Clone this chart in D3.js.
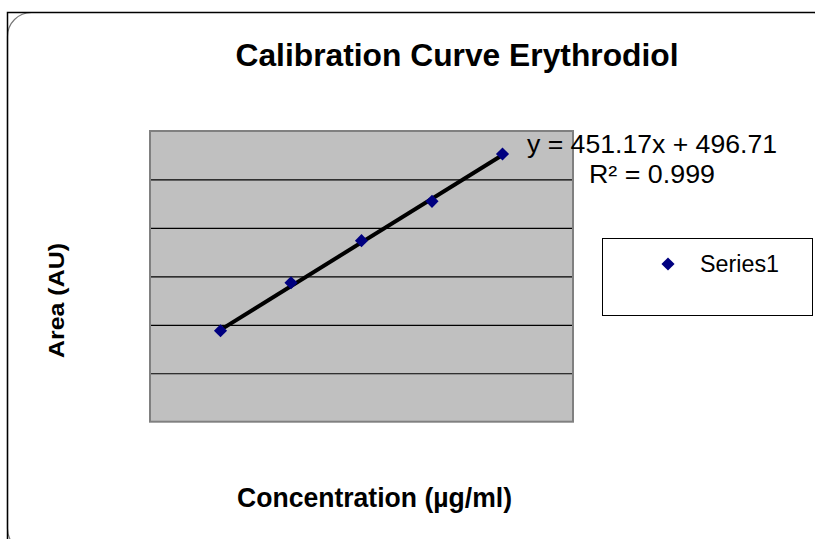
<!DOCTYPE html>
<html>
<head>
<meta charset="utf-8">
<script src="https://cdn.jsdelivr.net/npm/d3@7"></script>
<style>
  body { margin: 0; background: #fff; }
  svg { display: block; font-family: "Liberation Sans", Arial, sans-serif; }
</style>
</head>
<body>
<div class="js-canvas"></div>
<script>
'use strict';

// data (x = concentration, y = area)
const concentrations = [1, 2, 3, 4, 5];
const areas = [939, 1434, 1868, 2274, 2763];
const seriesName = 'Series1';
const gridValues = [500, 1000, 1500, 2000, 2500];
const trendSlope = 451.17;
const trendIntercept = 496.71;
const rSquared = 0.999;

const config = {
    width: 815,
    height: 539,
    plot: { left: 150, top: 131, right: 573, bottom: 421.7 }
};

const svg = d3.select('.js-canvas')
    .append('svg')
    .attr('width', config.width)
    .attr('height', config.height);

// outer frame + rounded chart border
svg.append('rect')
    .attr('x', 7.5).attr('y', 12.5)
    .attr('width', 830).attr('height', 540)
    .attr('rx', 24).attr('ry', 24)
    .attr('fill', '#fff')
    .attr('stroke', '#777')
    .attr('stroke-width', 1.2);

svg.append('path')
    .attr('d', `M7.5,539 V12.5 H815`)
    .attr('fill', 'none')
    .attr('stroke', '#000')
    .attr('stroke-width', 1.5);

const p = config.plot;

const x = d3.scaleLinear()
    .domain([0, 6])
    .range([p.left, p.right]);

const y = d3.scaleLinear()
    .domain([0, 3000])
    .range([p.bottom, p.top]);

// plot area
svg.append('rect')
    .attr('x', p.left).attr('y', p.top)
    .attr('width', p.right - p.left)
    .attr('height', p.bottom - p.top)
    .attr('fill', '#c0c0c0');

// gridlines (no tick labels in the original)
const grid = svg.append('g')
    .attr('transform', `translate(${p.left}, 0)`)
    .call(d3.axisLeft(y)
        .tickValues(gridValues)
        .tickSize(-(p.right - p.left))
        .tickFormat(''));
grid.select('.domain').remove();
grid.selectAll('line')
    .attr('stroke', '#000')
    .attr('stroke-width', 1.2);

svg.append('rect')
    .attr('x', p.left).attr('y', p.top)
    .attr('width', p.right - p.left)
    .attr('height', p.bottom - p.top)
    .attr('fill', 'none')
    .attr('stroke', '#808080')
    .attr('stroke-width', 2);

// linear trendline
const xExtent = d3.extent(concentrations);
svg.append('line')
    .attr('x1', x(xExtent[0]))
    .attr('y1', y(trendSlope * xExtent[0] + trendIntercept))
    .attr('x2', x(xExtent[1]))
    .attr('y2', y(trendSlope * xExtent[1] + trendIntercept))
    .attr('stroke', '#000')
    .attr('stroke-width', 4);

// points
const diamond = d3.symbol(d3.symbolDiamond2, 110);
svg.selectAll('.pt')
    .data(concentrations.map((c, i) => ({ c, a: areas[i] })))
    .enter().append('path')
    .attr('class', 'pt')
    .attr('d', diamond)
    .attr('transform', d => `translate(${x(d.c)}, ${y(d.a)})`)
    .attr('fill', '#000080');

// trendline label
svg.append('text')
    .attr('x', 652).attr('y', 153)
    .attr('text-anchor', 'middle')
    .attr('font-size', 25)
    .attr('textLength', 250)
    .attr('lengthAdjust', 'spacingAndGlyphs')
    .text(`y = ${trendSlope}x + ${trendIntercept}`);

svg.append('text')
    .attr('x', 652).attr('y', 183)
    .attr('text-anchor', 'middle')
    .attr('font-size', 25)
    .attr('textLength', 126)
    .attr('lengthAdjust', 'spacingAndGlyphs')
    .text(`R² = ${rSquared}`);

// title + axis titles
svg.append('text')
    .attr('x', 457).attr('y', 66)
    .attr('text-anchor', 'middle')
    .attr('font-size', 32)
    .attr('font-weight', 'bold')
    .attr('textLength', 443)
    .attr('lengthAdjust', 'spacingAndGlyphs')
    .text('Calibration Curve Erythrodiol');

svg.append('text')
    .attr('x', 374.5).attr('y', 507)
    .attr('text-anchor', 'middle')
    .attr('font-size', 27)
    .attr('font-weight', 'bold')
    .attr('textLength', 275)
    .attr('lengthAdjust', 'spacingAndGlyphs')
    .text('Concentration (µg/ml)');

svg.append('text')
    .attr('transform', 'translate(64, 300.5) rotate(-90)')
    .attr('text-anchor', 'middle')
    .attr('font-size', 22)
    .attr('font-weight', 'bold')
    .attr('textLength', 115)
    .attr('lengthAdjust', 'spacingAndGlyphs')
    .text('Area (AU)');

// legend
const legend = svg.append('g');
legend.append('rect')
    .attr('x', 602.5).attr('y', 238.5)
    .attr('width', 210).attr('height', 77)
    .attr('fill', '#fff')
    .attr('stroke', '#000')
    .attr('stroke-width', 1);
legend.append('path')
    .attr('d', diamond)
    .attr('transform', 'translate(668, 264)')
    .attr('fill', '#000080');
legend.append('text')
    .attr('x', 700).attr('y', 272)
    .attr('font-size', 23)
    .attr('textLength', 79)
    .attr('lengthAdjust', 'spacingAndGlyphs')
    .text(seriesName);
</script>
</body>
</html>
